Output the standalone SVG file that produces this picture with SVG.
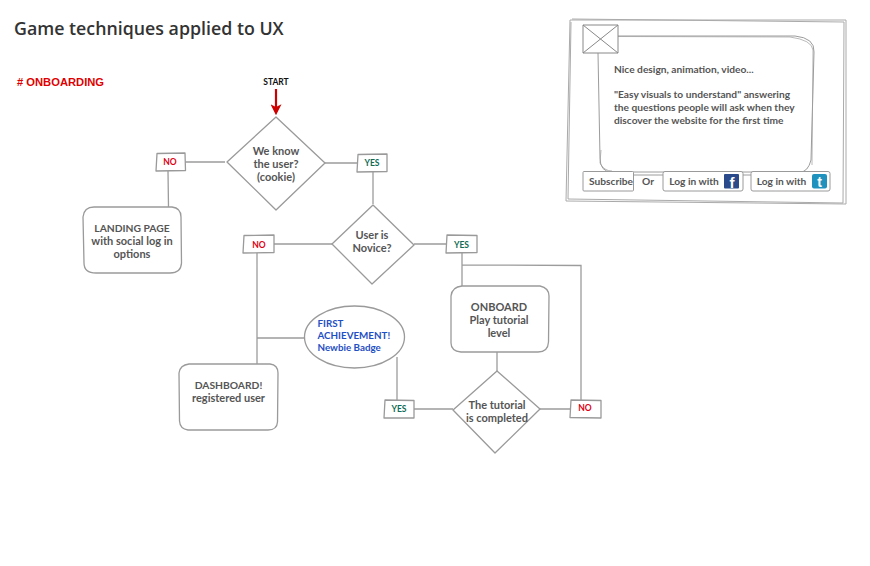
<svg xmlns="http://www.w3.org/2000/svg" width="870" height="566" viewBox="0 0 870 566">
<style>
.s{fill:#fff;stroke:#9a9a9a;stroke-width:1.3;stroke-linejoin:round}
.c{fill:none;stroke:#9c9c9c;stroke-width:1.3}
.w{fill:none;stroke:#aaa;stroke-width:1}
text{font-family:Lato,"Open Sans","DejaVu Sans",sans-serif;font-weight:700;fill:#555;font-size:11px;text-anchor:middle}
.l{text-anchor:start}
.k{font-size:10.300px}
.t{font-size:10.200px}
.no{fill:#e00012;font-size:8.500px}
.yes{fill:#0f6b55;font-size:8.500px}
.b{fill:#1f4fc4;text-anchor:start;font-size:9.800px}
</style>
<defs>
<marker id="a" markerWidth="5" markerHeight="5" refX="2.6" refY="2.5" orient="auto" markerUnits="strokeWidth"><path d="M0,0L5,2.500L0,5L1.200,2.500Z" fill="#cc0000"/></marker>
</defs>
<g id="title">
<text x="14" y="35" class="l" style="font-family:'Open Sans',sans-serif;font-weight:600;font-size:17.800px;fill:#333">Game techniques applied to UX</text>
<text x="17" y="86" class="l" style="font-family:'Liberation Sans',sans-serif;font-size:11.200px;fill:#e00000"># ONBOARDING</text>
</g>
<g id="connectors">
<path class="c" d="M185,162H225M168,171L168.500,207M325,163H357M373,172V204M274,244H332M257,253V364M257,338H304M414,244H446M462,253V286M462,265L581,265.500V401M497,352V371M540,409H570M414,409H453M397,357V400"/>
<path d="M276,89V110" fill="none" stroke="#cc0000" stroke-width="2.200" marker-end="url(#a)"/>
</g>
<g id="start"><text x="276" y="85" style="font-size:8.500px;fill:#111">START</text></g>
<g id="d1"><path class="s" d="M276,117L325,163L276,210L227,162Z"/><text x="276" y="155">We know</text><text x="276" y="168">the user?</text><text x="276" y="181">(cookie)</text></g>
<g id="no1"><path class="s" d="M157,153.500L185,153L185.500,170.500L156,171Z"/><text class="no" x="170" y="165">NO</text></g>
<g id="yes1"><path class="s" d="M358,154.500L387,154L387,171.500L357,172Z"/><text class="yes" x="372" y="166">YES</text></g>
<g id="landing"><path class="s" d="M94,207L172,207Q181,208 181,217L181.500,263Q181,273 170,273L96,273Q84,273 84,263L83,217Q84,207 94,207Z"/><text class="k" x="132" y="232">LANDING PAGE</text><text x="132" y="245">with social log in</text><text x="132" y="258">options</text></g>
<g id="d2"><path class="s" d="M373,205L414,245L372,284L332,244Z"/><text x="372" y="239">User is</text><text x="372" y="252">Novice?</text></g>
<g id="no2"><path class="s" d="M244,235.500L274,235L274,252.500L243,253Z"/><text class="no" x="259" y="248">NO</text></g>
<g id="yes2"><path class="s" d="M447,235L477,235.500L477,252.500L446,253Z"/><text class="yes" x="461.500" y="248">YES</text></g>
<g id="onboard"><path class="s" d="M462,286L540,286Q549,288 549,296L548.500,342Q548,352 538,352L461,352Q451,351 451,343L451,296Q452,287 462,286Z"/><text x="499" y="311">ONBOARD</text><text x="499" y="324">Play tutorial</text><text x="499" y="337">level</text></g>
<g id="achievement"><ellipse class="s" cx="354.500" cy="337" rx="50" ry="31"/><text class="b" x="317.500" y="327">FIRST</text><text class="b" x="317.500" y="339">ACHIEVEMENT!</text><text class="b" x="317.500" y="351">Newbie Badge</text></g>
<g id="dashboard"><path class="s" d="M189,364L270,364Q278,365 278,373L277.500,422Q277,430 268,430L188,430Q180,429 179.500,421L179,373Q180,365 189,364Z"/><text class="k" x="228.500" y="389">DASHBOARD!</text><text x="228.500" y="402">registered user</text></g>
<g id="d3"><path class="s" d="M497,371L540,409L495,453L453,410Z"/><text x="497" y="409">The tutorial</text><text x="497" y="422">is completed</text></g>
<g id="yes3"><path class="s" d="M385,400L414,400.500L414,418L384,418Z"/><text class="yes" x="399" y="412">YES</text></g>
<g id="no3"><path class="s" d="M571,400L601,400.500L601,418L570,417.500Z"/><text class="no" x="585" y="411">NO</text></g>
<g id="wireframe">
<path class="w" d="M570,20L846,20L846,204L566,201L570,20"/>
<path class="w" d="M572,19L844,22L843,203L568,199L571,22"/>
<path class="c" d="M618,36L795,36Q815,38 814,52L811,160Q808,172 800,172H612Q600,172 600,158L598,53" style="stroke-width:1"/>
<path class="c" d="M618,36.500L790,37Q812,40 813,50L812,165M601,150L600,163Q604,171 612,171" style="stroke-width:.7"/>
<g id="placeholder"><path class="s" d="M583,25H618V53H583ZM583,25L618,53M618,25L583,53" style="stroke-width:1;stroke:#888"/></g>
<text class="l t" x="614" y="73">Nice design, animation, video...</text>
<text class="l t" x="614" y="98">"Easy visuals to understand" answering</text>
<text class="l t" x="614" y="111">the questions people will ask when they</text>
<text class="l t" x="614" y="124">discover the website for the first time</text>
<path class="c" d="M633,175H663M743,175H751" style="stroke-width:1"/>
<g id="subscribe"><rect class="s" x="583" y="171.500" width="50.500" height="19.500" rx="1" style="stroke-width:1"/><text class="t" x="611" y="185">Subscribe</text></g>
<text class="t" x="648" y="185">Or</text>
<g id="login-fb"><rect class="s" x="663" y="171.500" width="80" height="19.500" rx="2" style="stroke-width:1"/><text class="t" x="694" y="185">Log in with</text><rect x="724" y="174" width="15" height="14.500" rx="1" fill="#2a4a8b"/><text x="732" y="187.500" style="font-family:'Liberation Sans',sans-serif;font-size:15px;fill:#fff">f</text></g>
<g id="login-tw"><rect class="s" x="751" y="171.500" width="79" height="19.500" rx="2" style="stroke-width:1"/><text class="t" x="781.500" y="185">Log in with</text><rect x="812" y="174" width="15" height="14.500" rx="2" fill="#1f93bd"/><text x="819.500" y="186.500" style="font-family:'Liberation Sans',sans-serif;font-size:14px;fill:#fff">t</text></g>
</g>
</svg>
